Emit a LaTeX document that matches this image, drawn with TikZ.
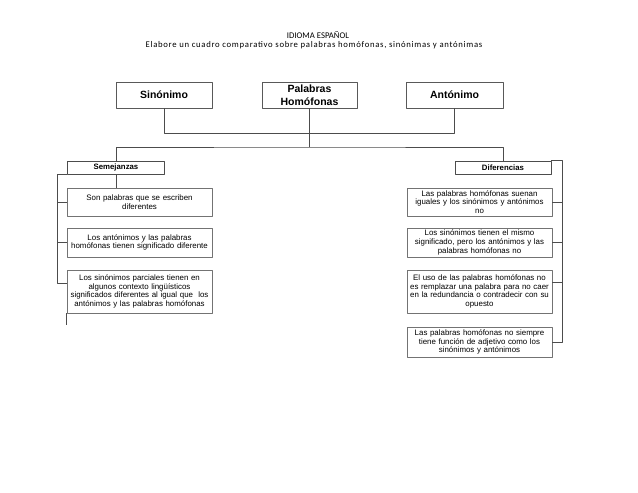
\documentclass[tikz,border=0pt]{standalone}
\usepackage{fontspec}
\setmainfont{Liberation Sans}
\newfontfamily\titlefont{Carlito}
\newfontfamily\subtitlefont{Carlito}[LetterSpace=8]
\usetikzlibrary{positioning,calc}

\begin{document}
\begin{tikzpicture}[x=1pt, y=-1pt, line join=round,
  every node/.style={inner sep=2pt, align=center},
  topbox/.style={draw=black!65, line width=0.8pt, minimum height=26pt,
    inner ysep=1pt, font=\fontsize{10.5}{12.5}\selectfont\bfseries},
  headbox/.style={draw=black!70, line width=0.7pt, minimum height=13pt,
    inner ysep=0.5pt, minimum width=97pt, font=\fontsize{7.8}{9}\selectfont\bfseries},
  itembox/.style={draw=black!55, line width=0.6pt, minimum width=145pt,
    text width=141pt, inner ysep=0.5pt, font=\fontsize{7.9}{8.8}\selectfont},
  link/.style={draw=black!70, line width=0.7pt}]
\useasboundingbox (0,0) rectangle (638,493);
% heading of the sheet
\node (title) at (318,35) {\titlefont\fontsize{8.7}{10}\selectfont IDIOMA ESPAÑOL};
\node (subtitle) at (314,45) {\subtitlefont\fontsize{8.7}{10}\selectfont Elabore un cuadro comparativo sobre palabras homófonas, sinónimas y antónimas};
% the three concepts
\node[topbox, minimum width=96pt] (sin) at (164,95) {Sinónimo};
\node[topbox, minimum width=95pt] (hom) at (309.5,95) {Palabras\\Homófonas};
\node[topbox, minimum width=97pt] (ant) at (454.5,95) {Antónimo};
\coordinate (bus) at (309.5,147);
\draw[link] (sin.south) -- ++(0,25) -| (ant.south);
\draw[link] (hom.south) -- (bus);
% comparison headings
\node[headbox] (sem) at (116,167.5) {Semejanzas};
\node[headbox, minimum width=96pt] (dif) at (503,167.5) {Diferencias};
\draw[link] (sem.north) |- (bus) -| (dif.north);
% similarities
\foreach \nm/\yc/\bh/\txt in {
  s1/202/28/{Son palabras que se escriben\\diferentes},
  s2/242.5/29/{Los antónimos y las palabras\\homófonas tienen significado diferente},
  s3/291.5/43/{Los sinónimos parciales tienen en\\algunos contexto lingüísticos\\significados diferentes al igual que ~los\\antónimos y las palabras homófonas}}{
  \node[itembox, minimum height=\bh pt] (\nm) at (139.5,\yc) {\txt};
}
% differences
\foreach \nm/\yc/\bh/\txt in {
  d1/202/28/{Las palabras homófonas suenan\\iguales y los sinónimos y antónimos\\no},
  d2/242.5/29/{Los sinónimos tienen el mismo\\significado, pero los antónimos y las\\palabras homófonas no},
  d3/291.5/43/{El uso de las palabras homófonas no\\es remplazar una palabra para no caer\\en la redundancia o contradecir con su\\opuesto},
  d4/342/30/{Las palabras homófonas no siempre\\tiene función de adjetivo como los\\sinónimos y antónimos}}{
  \node[itembox, minimum height=\bh pt] (\nm) at (479.5,\yc) {\txt};
}
% left bracket
\draw[link] (sem.south) -- (sem.south |- s1.north);
\draw[link] (sem.south west) -- ++(-10,0) |- ([yshift=-14pt]s3.north west);
\draw[link] (s1.west) -- ++(-10,0);
\draw[link] (s2.west) -- ++(-10,0);
\draw[link] (s3.south west) -- ++(0,12);
% right bracket
\draw[link] (dif.north east) -- ++(11,0) |- (d4.east);
\draw[link] (d1.east) -- ++(11,0);
\draw[link] (d2.east) -- ++(11,0);
\draw[link] ([yshift=-13pt]d3.north east) -- ++(11,0);
\end{tikzpicture}
\end{document}
